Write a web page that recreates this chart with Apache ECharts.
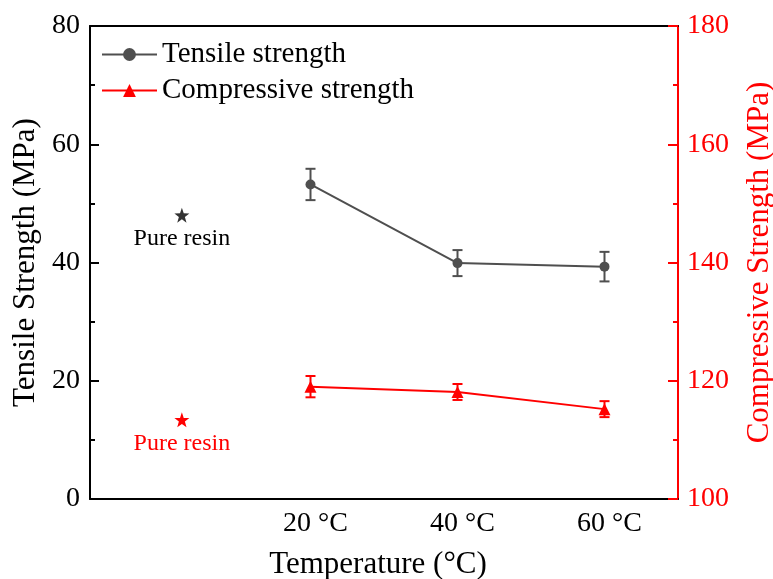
<!DOCTYPE html>
<html>
<head>
<meta charset="utf-8">
<script src="https://cdn.jsdelivr.net/npm/echarts@6/dist/echarts.min.js"></script>
<style>html,body{margin:0;padding:0;background:#fff}#c{width:773px;height:579px}</style>
</head>
<body>
<div id="c"></div>
<script>
const temperatures = [20, 40, 60];
const xTickLabels = ['20 °C', '40 °C', '60 °C'];
const tensile = [53.2, 39.9, 39.3];
const tensileErr = [2.65, 2.2, 2.5];
const compressive = [119.0, 118.1, 115.2];
const compressiveErr = [1.8, 1.35, 1.35];
const pureResinX = 2.5;
const pureResinTensile = 48.0;
const pureResinCompressive = 113.4;
const pureResinLabel = 'Pure resin';

const FONT = "'Liberation Serif', 'Times New Roman', serif";
const GRAY = '#4f4f4f';
const RED = '#ff0000';
const STAR = 'path://M0,-10 L2.351,-3.236 L9.511,-3.09 L3.804,1.236 L5.878,8.09 L0,4 L-5.878,8.09 L-3.804,1.236 L-9.511,-3.09 L-2.351,-3.236 Z';

function errData(vals, errs) {
  return temperatures.map((t, i) => [t, vals[i] - errs[i], vals[i] + errs[i]]);
}
function errRender(color) {
  return function (params, api) {
    const x = api.value(0);
    const pLo = api.coord([x, api.value(1)]);
    const pHi = api.coord([x, api.value(2)]);
    const hw = 5;
    const st = { stroke: color, lineWidth: 2 };
    return {
      type: 'group',
      children: [
        { type: 'line', shape: { x1: pHi[0], y1: pHi[1], x2: pLo[0], y2: pLo[1] }, style: st },
        { type: 'line', shape: { x1: pHi[0] - hw, y1: pHi[1], x2: pHi[0] + hw, y2: pHi[1] }, style: st },
        { type: 'line', shape: { x1: pLo[0] - hw, y1: pLo[1], x2: pLo[0] + hw, y2: pLo[1] }, style: st }
      ]
    };
  };
}

const chart = echarts.init(document.getElementById('c'), null, { renderer: 'canvas' });
chart.setOption({
  animation: false,
  backgroundColor: '#fff',
  grid: { left: 90, right: 95, top: 26, bottom: 80, containLabel: false, outerBoundsMode: 'none' },
  legend: {
    orient: 'vertical',
    left: 101,
    top: 40,
    padding: 0,
    itemWidth: 55,
    itemHeight: 16,
    itemGap: 7,
    data: ['Tensile strength', 'Compressive strength'],
    textStyle: { fontFamily: FONT, fontSize: 29, color: '#000', lineHeight: 29 }
  },
  xAxis: [{
    type: 'value',
    min: -10, max: 70, interval: 10,
    name: 'Temperature (°C)',
    nameLocation: 'middle',
    nameGap: 50,
    nameTextStyle: { fontFamily: FONT, fontSize: 31, color: '#000', padding: [0, 12, 0, 0] },
    axisLine: { show: true, onZero: false, lineStyle: { color: '#000', width: 2 } },
    axisTick: { show: false },
    splitLine: { show: false },
    axisLabel: {
      fontFamily: FONT, fontSize: 28, color: '#000', margin: 11,
      padding: [0, 0, 0, 10],
      showMinLabel: true, showMaxLabel: true,
      formatter: function (v) {
        const i = temperatures.indexOf(v);
        return i >= 0 ? xTickLabels[i] : '';
      }
    }
  }, {
    type: 'value',
    position: 'top',
    min: -10, max: 70, interval: 10,
    axisLine: { show: true, onZero: false, lineStyle: { color: '#000', width: 2 } },
    axisTick: { show: false },
    axisLabel: { show: false },
    splitLine: { show: false }
  }],
  yAxis: [{
    type: 'value',
    position: 'left',
    min: 0, max: 80, interval: 20,
    name: 'Tensile Strength (MPa)',
    nameLocation: 'middle',
    nameRotate: 90,
    nameGap: 43,
    nameTextStyle: { fontFamily: FONT, fontSize: 31, color: '#000' },
    axisLine: { show: true, onZero: false, lineStyle: { color: '#000', width: 2 } },
    axisTick: { show: true, inside: true, length: 9, lineStyle: { color: '#000', width: 2 } },
    minorTick: { show: true, splitNumber: 2, length: 5, lineStyle: { color: '#000', width: 2 } },
    splitLine: { show: false },
    minorSplitLine: { show: false },
    axisLabel: { fontFamily: FONT, fontSize: 28, color: '#000', margin: 10 }
  }, {
    type: 'value',
    position: 'right',
    min: 100, max: 180, interval: 20,
    name: 'Compressive Strength (MPa)',
    nameLocation: 'middle',
    nameRotate: 90,
    nameGap: 66,
    nameTextStyle: { fontFamily: FONT, fontSize: 31, color: RED },
    axisLine: { show: true, onZero: false, lineStyle: { color: RED, width: 2 } },
    axisTick: { show: true, inside: true, length: 10, lineStyle: { color: RED, width: 2 } },
    minorTick: { show: true, splitNumber: 2, length: 5, lineStyle: { color: RED, width: 2 } },
    splitLine: { show: false },
    minorSplitLine: { show: false },
    axisLabel: { fontFamily: FONT, fontSize: 28, color: RED, margin: 9 }
  }],
  series: [{
    name: 'Tensile strength',
    type: 'line',
    xAxisIndex: 0, yAxisIndex: 0,
    data: temperatures.map((t, i) => [t, tensile[i]]),
    symbol: 'circle', symbolSize: 10,
    lineStyle: { color: GRAY, width: 2 },
    itemStyle: { color: GRAY },
    z: 3
  }, {
    name: 'Compressive strength',
    type: 'line',
    xAxisIndex: 0, yAxisIndex: 1,
    data: temperatures.map((t, i) => [t, compressive[i]]),
    symbol: 'triangle', symbolSize: 12,
    lineStyle: { color: RED, width: 2 },
    itemStyle: { color: RED },
    z: 3
  }, {
    type: 'custom',
    xAxisIndex: 0, yAxisIndex: 0,
    renderItem: errRender(GRAY),
    encode: { x: 0, y: [1, 2] },
    data: errData(tensile, tensileErr),
    z: 2
  }, {
    type: 'custom',
    xAxisIndex: 0, yAxisIndex: 1,
    renderItem: errRender(RED),
    encode: { x: 0, y: [1, 2] },
    data: errData(compressive, compressiveErr),
    z: 2
  }, {
    type: 'scatter',
    xAxisIndex: 0, yAxisIndex: 0,
    data: [[pureResinX, pureResinTensile]],
    symbol: STAR,
    symbolSize: 15,
    itemStyle: { color: '#333', opacity: 1 },
    label: { show: true, position: 'bottom', distance: 4, formatter: pureResinLabel, fontFamily: FONT, fontSize: 24, color: '#000' }
  }, {
    type: 'scatter',
    xAxisIndex: 0, yAxisIndex: 1,
    data: [[pureResinX, pureResinCompressive]],
    symbol: STAR,
    symbolSize: 15,
    itemStyle: { color: RED, opacity: 1 },
    label: { show: true, position: 'bottom', distance: 4, formatter: pureResinLabel, fontFamily: FONT, fontSize: 24, color: RED }
  }]
});
</script>
</body>
</html>
